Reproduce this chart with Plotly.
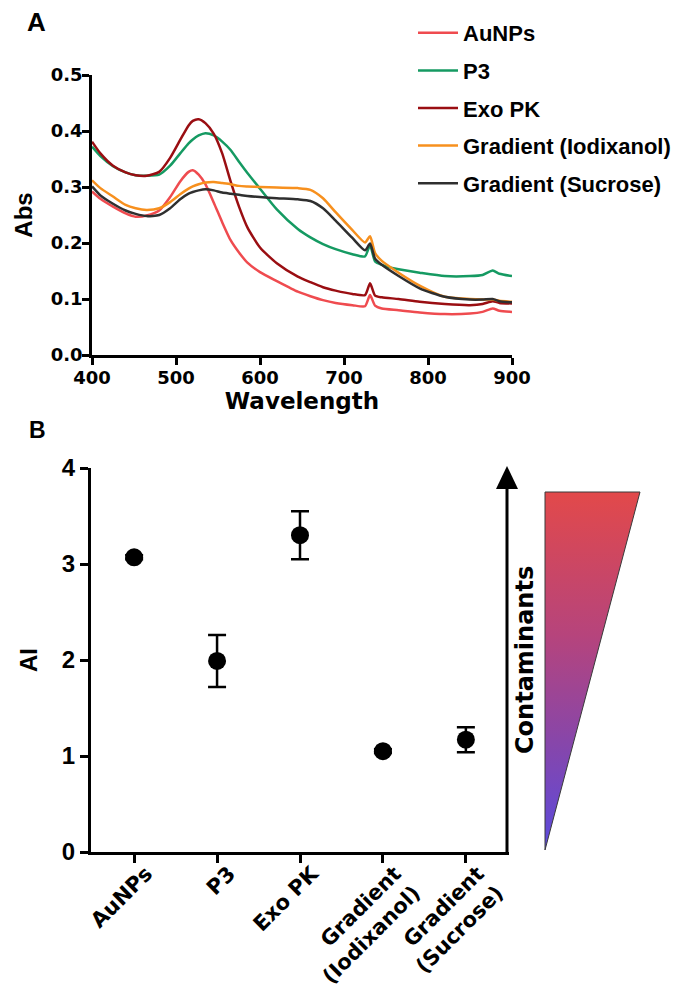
import plotly.graph_objects as go

W, H = 685, 987          # target window
OFF = 8                  # default page body margin
FW, FH = W - OFF, H - OFF  # figure size so it ends at the window edge

# ---------------- Panel A data ----------------
wavelength = [400, 410, 425, 440, 452, 465, 480, 493, 505, 515, 520, 527, 535, 545, 555, 565,
              575, 585, 600, 620, 645, 660, 675, 690, 710, 725, 731, 737, 745, 765, 790, 820,
              850, 865, 877, 885, 900]

abs_aunps = [0.292, 0.279, 0.265, 0.253, 0.247, 0.249, 0.258, 0.282, 0.310, 0.327, 0.330, 0.322,
             0.305, 0.272, 0.237, 0.205, 0.183, 0.165, 0.148, 0.132, 0.113, 0.105, 0.098, 0.093,
             0.089, 0.087, 0.107, 0.088, 0.083, 0.080, 0.076, 0.073, 0.074, 0.077, 0.083, 0.079,
             0.077]

abs_p3 = [0.372, 0.355, 0.337, 0.326, 0.321, 0.320, 0.322, 0.338, 0.360, 0.378, 0.385, 0.392,
          0.396, 0.392, 0.381, 0.366, 0.345, 0.325, 0.297, 0.260, 0.225, 0.210, 0.198, 0.189,
          0.180, 0.176, 0.196, 0.167, 0.161, 0.153, 0.147, 0.141, 0.141, 0.143, 0.151, 0.145,
          0.141]

abs_exopk = [0.381, 0.360, 0.338, 0.326, 0.321, 0.320, 0.327, 0.352, 0.384, 0.410, 0.418, 0.421,
             0.414, 0.395, 0.360, 0.310, 0.265, 0.228, 0.192, 0.164, 0.140, 0.130, 0.121, 0.115,
             0.109, 0.107, 0.128, 0.106, 0.103, 0.100, 0.095, 0.091, 0.089, 0.091, 0.096, 0.093,
             0.092]

abs_iodixanol = [0.312, 0.298, 0.283, 0.268, 0.262, 0.259, 0.262, 0.273, 0.287, 0.297, 0.301,
                 0.305, 0.308, 0.309, 0.307, 0.305, 0.302, 0.301, 0.300, 0.299, 0.298, 0.295,
                 0.280, 0.255, 0.223, 0.201, 0.212, 0.182, 0.168, 0.147, 0.124, 0.104, 0.100,
                 0.099, 0.099, 0.097, 0.095]

abs_sucrose = [0.301, 0.285, 0.270, 0.258, 0.252, 0.248, 0.250, 0.262, 0.278, 0.288, 0.291,
               0.294, 0.296, 0.294, 0.290, 0.288, 0.286, 0.284, 0.282, 0.280, 0.278, 0.275,
               0.262, 0.240, 0.209, 0.187, 0.199, 0.172, 0.161, 0.141, 0.119, 0.104, 0.099,
               0.099, 0.100, 0.096, 0.094]

series_names = ["AuNPs", "P3", "Exo PK", "Gradient (Iodixanol)", "Gradient (Sucrose)"]
series_values = [abs_aunps, abs_p3, abs_exopk, abs_iodixanol, abs_sucrose]
series_colors = ["#ef4b4f", "#159a62", "#9a0e12", "#f7901e", "#2f2f2f"]

x_ticks_a = [400, 500, 600, 700, 800, 900]
y_ticks_a = [0.0, 0.1, 0.2, 0.3, 0.4, 0.5]

# ---------------- Panel B data ----------------
categories = ["AuNPs", "P3", "Exo PK", "Gradient (Iodixanol)", "Gradient (Sucrose)"]
category_labels = ["AuNPs", "P3", "Exo PK", "Gradient<br>(Iodixanol)", "Gradient<br>(Sucrose)"]
ai_mean = [3.07, 1.99, 3.30, 1.05, 1.17]
ai_err = [0.02, 0.27, 0.25, 0.02, 0.13]
y_ticks_b = [0, 1, 2, 3, 4]

# ---------------- figure ----------------
BOLD_DV = "DejaVu Sans"
ARIAL = "Liberation Sans, Arial, sans-serif"


def px_x(p):
    return (p - OFF) / FW


def px_y(p):
    return 1 - (p - OFF) / FH


fig = go.Figure()

for name, vals, color in zip(series_names, series_values, series_colors):
    fig.add_trace(go.Scatter(
        x=wavelength, y=vals, mode="lines", name=name,
        line=dict(color=color, width=2.5, shape="spline", smoothing=0.6),
        xaxis="x", yaxis="y", legendgroup=name,
    ))

fig.add_trace(go.Scatter(
    x=categories, y=ai_mean, mode="markers", showlegend=False,
    marker=dict(color="black", size=18),
    error_y=dict(type="data", array=ai_err, color="black", thickness=2.5, width=9),
    xaxis="x2", yaxis="y2",
))

# decorative gradient triangle (pixel-space overlay axes)
tri_x = [545, 640, 545, 545]
tri_y = [492, 492, 850, 492]
fig.add_trace(go.Scatter(
    x=tri_x, y=tri_y, mode="lines", fill="toself", showlegend=False, hoverinfo="skip",
    line=dict(color="#3a3a3a", width=1),
    fillgradient=dict(type="vertical", start=850, stop=492,
                      colorscale=[[0, "#5a4ade"], [0.3, "#8746aa"], [0.6, "#b6447c"], [1, "#e2494a"]]),
    xaxis="x3", yaxis="y3",
))

axis_common = dict(showline=True, linecolor="black", ticks="outside", tickcolor="black",
                   showgrid=False, zeroline=False, automargin=False)

fig.update_layout(
    width=FW, height=FH,
    margin=dict(l=0, r=0, t=0, b=0),
    paper_bgcolor="white", plot_bgcolor="rgba(0,0,0,0)",
    showlegend=True,
    legend=dict(x=px_x(413), y=px_y(12), xanchor="left", yanchor="top",
                font=dict(family=ARIAL, size=22, color="black", weight="bold"),
                tracegroupgap=6, itemwidth=40, bgcolor="rgba(0,0,0,0)"),
    xaxis=dict(domain=[px_x(92), px_x(512)], range=[400, 900], anchor="y",
               tickvals=x_ticks_a, ticklen=7, tickwidth=2.5, linewidth=2.5,
               ticklabelstandoff=-2,
               tickfont=dict(family=BOLD_DV, size=18, color="black", weight="bold"),
               title=dict(text="Wavelength", standoff=3,
                          font=dict(family=BOLD_DV, size=23, color="black", weight="bold")),
               **axis_common),
    yaxis=dict(domain=[px_y(355), px_y(75)], range=[0, 0.5], anchor="x",
               tickvals=y_ticks_a, tickformat=".1f", ticklen=7, tickwidth=2.5, linewidth=2.5,
               ticklabelstandoff=-4,
               tickfont=dict(family=BOLD_DV, size=18, color="black", weight="bold"),
               title=dict(text="Abs", standoff=12,
                          font=dict(family=ARIAL, size=24, color="black", weight="bold")),
               **axis_common),
    xaxis2=dict(domain=[px_x(91), px_x(509)], range=[-0.52, 4.52], anchor="y2", type="category",
                tickmode="array", tickvals=categories, ticktext=category_labels, tickangle=-45,
                ticklen=8, tickwidth=3, linewidth=3, ticklabelstandoff=-10, ticklabelshift=12,
                tickfont=dict(family=BOLD_DV, size=21, color="black", weight="bold"),
                **axis_common),
    yaxis2=dict(domain=[px_y(852), px_y(468)], range=[0, 4], anchor="x2",
                tickvals=y_ticks_b, ticklen=8, tickwidth=3, linewidth=3,
                tickfont=dict(family="Liberation Sans Narrow, Liberation Sans, sans-serif",
                              size=24, color="black", weight="bold"),
                title=dict(text="AI", standoff=18,
                           font=dict(family=ARIAL, size=24, color="black", weight="bold")),
                **axis_common),
    xaxis3=dict(domain=[0, 1], range=[OFF, W], anchor="y3", visible=False, fixedrange=True),
    yaxis3=dict(domain=[0, 1], range=[H, OFF], anchor="x3", visible=False, fixedrange=True),
    shapes=[
        dict(type="line", xref="x3", yref="y3", x0=507, x1=507, y0=853, y1=482,
             line=dict(color="black", width=3)),
        dict(type="path", xref="x3", yref="y3", path="M 496,489 L 507,466 L 518,489 Z",
             fillcolor="black", line=dict(width=0)),
    ],
    annotations=[
        dict(text="A", xref="paper", yref="paper", x=px_x(36), y=px_y(22), showarrow=False,
             xanchor="center", yanchor="middle",
             font=dict(family=ARIAL, size=26, color="black", weight="bold")),
        dict(text="B", xref="paper", yref="paper", x=px_x(37), y=px_y(430), showarrow=False,
             xanchor="center", yanchor="middle",
             font=dict(family=ARIAL, size=23, color="black", weight="bold")),
        dict(text="Contaminants", xref="paper", yref="paper", x=px_x(525), y=px_y(660),
             showarrow=False, textangle=-90, xanchor="center", yanchor="middle",
             font=dict(family=BOLD_DV, size=24, color="black", weight="bold")),
    ],
)

fig.write_html("out.html")
